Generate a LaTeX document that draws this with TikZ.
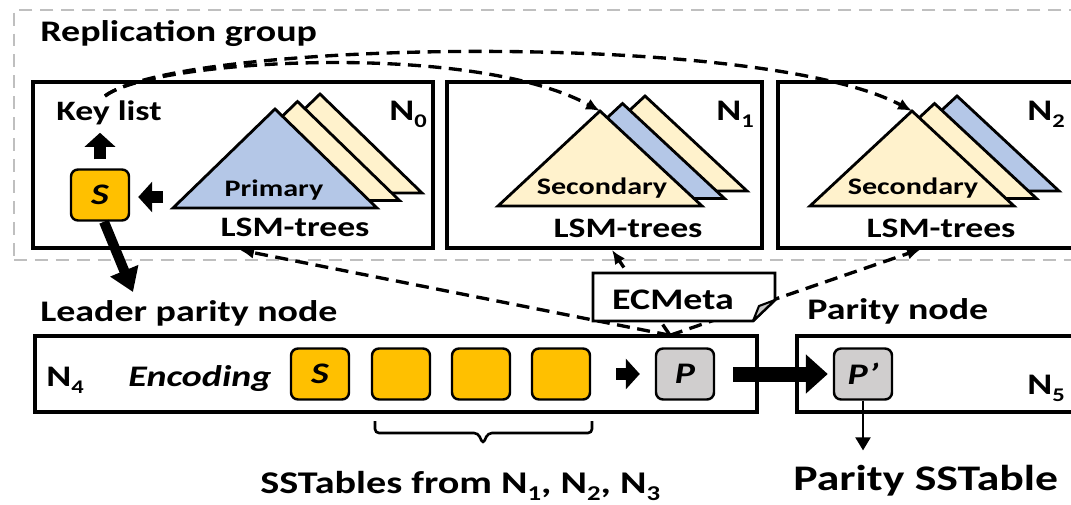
\documentclass[tikz,border=0pt]{standalone}
\usepackage{fontspec}
\setmainfont{Carlito}[FakeStretch=1.27]
\usetikzlibrary{arrows.meta,fit}
\definecolor{tblue}{HTML}{B4C7E7}
\definecolor{tcream}{HTML}{FFF2CC}
\definecolor{torange}{HTML}{FFC000}
\definecolor{tgray}{HTML}{D0CECE}
\definecolor{grpgray}{HTML}{BFBFBF}
\definecolor{foldgray}{HTML}{C8C8C8}
\newcommand\myfa{\fontsize{16}{19}\selectfont\bfseries}
\newcommand\myfd{\fontsize{17}{20}\selectfont\bfseries}
\newcommand\myfe{\fontsize{18}{21}\selectfont\bfseries}
\newcommand\myfb{\fontsize{13.5}{16}\selectfont\bfseries}
\newcommand\myfc{\fontsize{20.5}{24}\selectfont\bfseries}
\newcommand\mysub[2][11]{\raisebox{-4.5pt}{\fontsize{#1}{#1}\selectfont #2}}
\tikzset{
  nodebox/.style={draw, line width=1.8pt, inner sep=0pt},
  grpbox/.style={draw=grpgray, line width=1.5pt, dash pattern=on 0.26cm off 0.16cm},
  tri/.style={draw, line width=1.6pt, line join=miter},
  sq/.style={draw, line width=1.4pt, rounded corners=4pt, minimum width=1.16cm, minimum height=1.02cm, inner sep=0pt, font=\myfd\itshape},
  ysq/.style={sq, fill=torange},
  gsq/.style={sq, fill=tgray},
  lbl/.style={inner sep=0pt, font=\myfa},
  blockarrow/.style={line width=0.25cm, -{Triangle[length=0.28cm,width=0.6cm]}},
  dasharrow/.style={line width=1.9pt, dash pattern=on 0.26cm off 0.15cm, -{Latex[length=0.28cm,width=0.24cm]}},
}
\begin{document}
\begin{tikzpicture}[x=0.02cm,y=-0.02cm]
\clip (0,0) rectangle (1071,504);
\fill[white] (0,0) rectangle (1071,504);

% replication group
\node[grpbox, fit={(14,10)(1095,260)}, inner sep=0pt] (grp) {};
\node[lbl, font=\myfd, anchor=base west] (grplbl) at (40,41) {Replication group};

% node boxes
\node[nodebox, fit={(33,82)(433,248)}] (n0) {};
\node[nodebox, fit={(447,82)(762,248)}] (n1) {};
\node[nodebox, fit={(778,82)(1095,248)}] (n2) {};

% N0 triangles (back to front)
\draw[tri, fill=tcream] (218,193) -- (320,94) -- (422,193) -- cycle;
\draw[tri, fill=tcream] (195.5,200.5) -- (297.5,101.5) -- (399.5,200.5) -- cycle;
\draw[tri, fill=tblue] (173,208) -- (275,109) -- (377,208) -- cycle;
% N1 triangles
\draw[tri, fill=tcream] (543,191) -- (645,96) -- (747,191) -- cycle;
\draw[tri, fill=tblue] (520.5,198.5) -- (622.5,103.5) -- (724.5,198.5) -- cycle;
\draw[tri, fill=tcream] (498,206) -- (600,111) -- (702,206) -- cycle;
\coordinate (apex1) at (600,111);
% N2 triangles
\draw[tri, fill=tblue] (855,191) -- (957,96) -- (1059,191) -- cycle;
\draw[tri, fill=tcream] (832.5,198.5) -- (934.5,103.5) -- (1036.5,198.5) -- cycle;
\draw[tri, fill=tcream] (810,206) -- (912,111) -- (1014,206) -- cycle;
\coordinate (apex2) at (912,111);

% labels in the upper boxes
\node[lbl, anchor=base] (keyl) at (109,120) {Key list};
\node[lbl, font=\myfd, anchor=base west] (n0l) at (389,120) {N\mysub{0}};
\node[lbl, font=\myfd, anchor=base west] (n1l) at (716,120) {N\mysub{1}};
\node[lbl, font=\myfd, anchor=base west] (n2l) at (1027,120) {N\mysub{2}};
\node[inner sep=0pt, font=\myfb, anchor=base] (prim) at (274,196) {Primary};
\node[inner sep=0pt, font=\myfb, anchor=base] (sec1) at (602,194) {Secondary};
\node[inner sep=0pt, font=\myfb, anchor=base] (sec2) at (913,194) {Secondary};
\node[lbl, anchor=base] (lsm0) at (295,236) {LSM-trees};
\node[lbl, anchor=base] (lsm1) at (628,237) {LSM-trees};
\node[lbl, anchor=base] (lsm2) at (941,237) {LSM-trees};

% S in N0
\node[ysq] (sA) at (100,195) {S};
\coordinate (larr) at (163,197);
\draw[blockarrow, shorten <=0.18cm, shorten >=0.16cm] (sA.north) -- (sA.north |- keyl.south);
\draw[blockarrow, shorten >=0.16cm] (larr) -- (sA.east |- larr);

% dashed curves from key list
\coordinate (ks) at (105,96);
\draw[dasharrow] (ks) .. controls (150,60) and (470,40) .. (apex1);
\draw[dasharrow] (ks) .. controls (180,40) and (760,30) .. (apex2);

% lower part
\node[lbl, font=\myfd, anchor=base west] (leadl) at (40,321) {Leader parity node};
\node[lbl, font=\myfd, anchor=base west] (parl) at (807,319) {Parity node};
\node[nodebox, fit={(35,336)(757,412)}] (n4) {};
\node[nodebox, fit={(797,336)(1095,412)}] (n5) {};
\node[lbl, font=\myfd, anchor=base west] (n4l) at (46,386) {N\mysub{4}};
\node[lbl, font=\myfd, anchor=base west] (n5l) at (1027,394) {N\mysub{5}};
\node[lbl, anchor=base west, font=\myfd\itshape] (enc) at (128,386) {Encoding};

\node[ysq] (s4) at (320,374) {S};
\node[ysq] (b2) at (401,374) {};
\node[ysq] (b3) at (481,374) {};
\node[ysq] (b4) at (561,374) {};
\node[gsq] (p) at (685,374) {P};
\node[gsq] (pp) at (863,374) {P’};

\draw[blockarrow, shorten <=0.5cm, shorten >=0.3cm] (b4.east) -- (p.west);

% big arrows
\coordinate (leadtip) at (133,292);
\draw[line width=0.2cm, -{Triangle[length=0.46cm,width=0.58cm]}] ([xshift=0.08cm]sA.south) -- (leadtip);
\draw[line width=0.3cm, -{Triangle[length=0.44cm,width=0.76cm]}, shorten <=0.36cm, shorten >=0.1cm] (p.east) -- (pp.west);

% dashed arrows from P
\coordinate (ecsrc) at ([xshift=-0.3cm,yshift=0.24cm]p.north);
\coordinate (t0) at (240,250);
\coordinate (t1) at (612,250);
\coordinate (t2) at (921,249);
\draw[dasharrow] (ecsrc) -- (t0);
\draw[dasharrow] (ecsrc) -- (t1);
\draw[dasharrow] (ecsrc) -- (t2);

% ECMeta folded box
\draw[line width=1.6pt, fill=white, line join=miter] (593,273) -- (775,273) -- (775,300) -- (753,321) -- (593,321) -- cycle;
\draw[line width=1.2pt, fill=foldgray, line join=round] (753,321) -- (775,300) -- (759,306) -- cycle;
\node[lbl, font=\myfd, anchor=base] (ecm) at (673,309) {ECMeta};

% brace
\draw[line width=1.5pt, rounded corners=0.08cm] (375,421) -- (375,433) -- (478,433) -- (483,444) -- (488,433) -- (592,433) -- (592,421);
\node[lbl, font=\myfe, anchor=base west] (sst) at (260,493) {SSTables from N\mysub[12]{1}, N\mysub[12]{2}, N\mysub[12]{3}};

% parity sstable
\node[inner sep=0pt, font=\myfc, anchor=base west] (pst) at (793,490) {Parity SSTable};
\draw[line width=1.2pt, -{Triangle[length=0.26cm,width=0.3cm]}, shorten >=0.28cm] (pp.south) -- (pp.south |- pst.north);
\end{tikzpicture}
\end{document}
